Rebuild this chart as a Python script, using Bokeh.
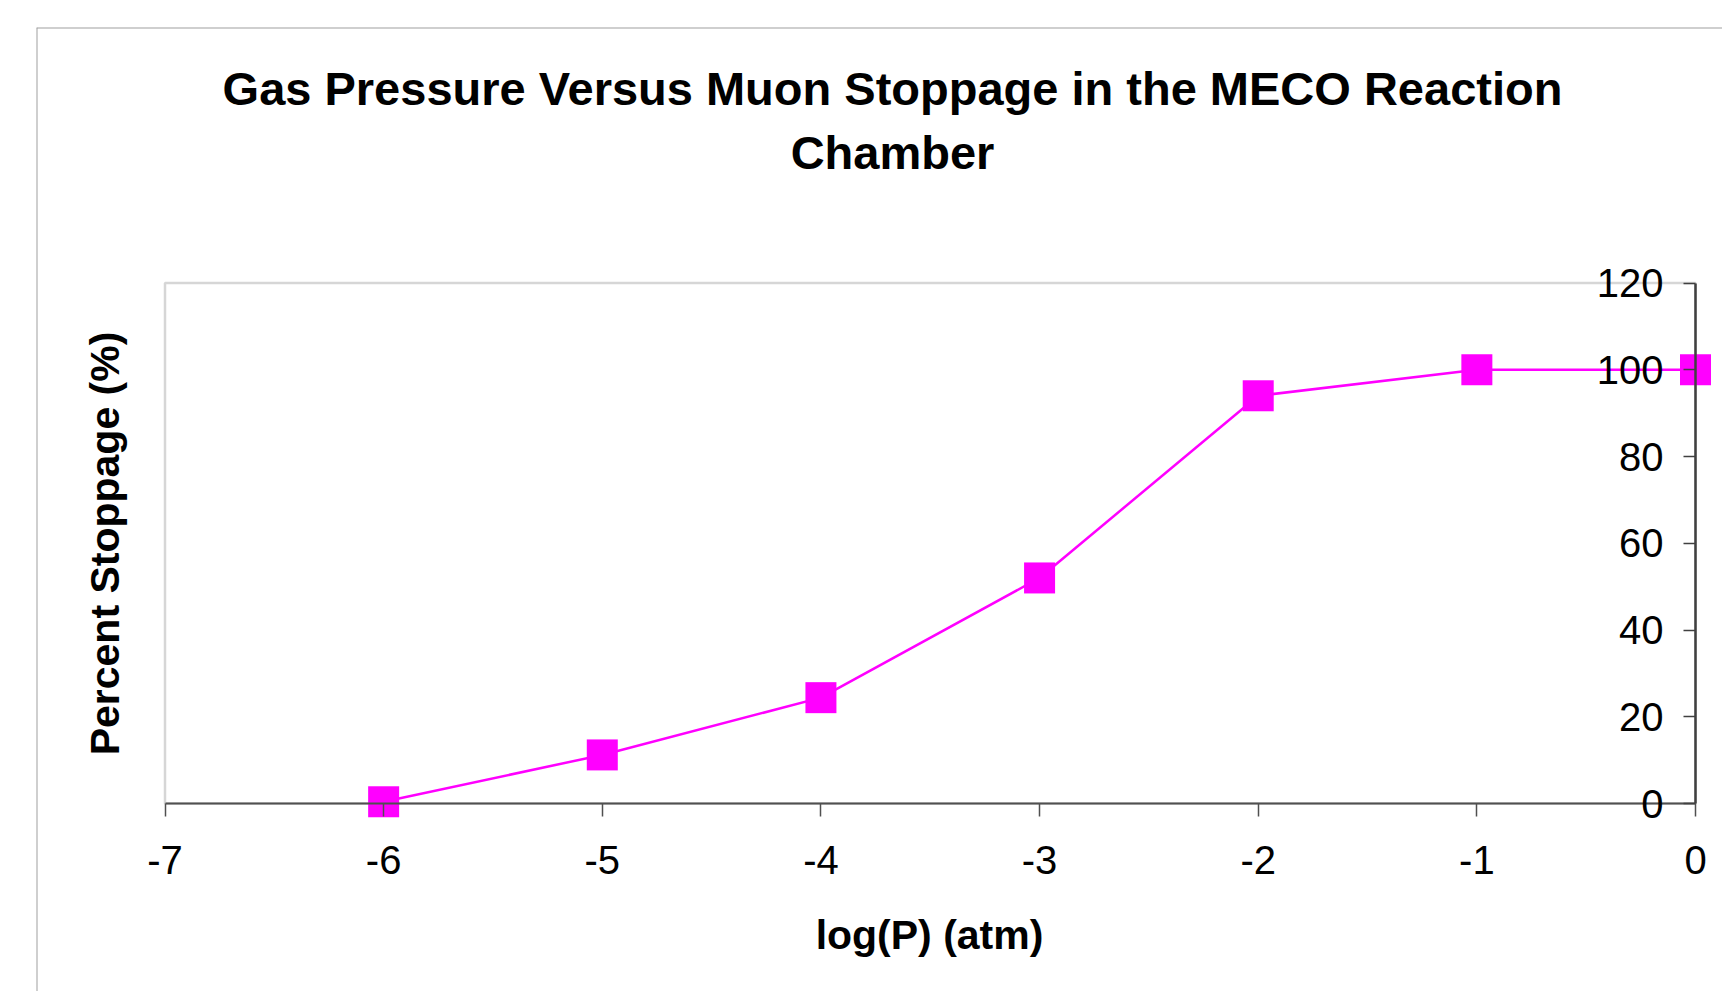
from bokeh.plotting import figure
from bokeh.models import Label, BoxAnnotation, Span, FixedTicker, Range1d
from bokeh.embed import file_html
from bokeh.resources import INLINE
import math

# ---- data ----
log_p = [-6, -5, -4, -3, -2, -1, 0]
stoppage = [0.4, 11.2, 24.4, 52.0, 94.0, 100.0, 100.0]
x_ticks = [-7, -6, -5, -4, -3, -2, -1, 0]
x_tick_labels = ["-7", "-6", "-5", "-4", "-3", "-2", "-1", "0"]
y_ticks = [0, 20, 40, 60, 80, 100, 120]
y_tick_labels = ["0", "20", "40", "60", "80", "100", "120"]
title_lines = ["Gas Pressure Versus Muon Stoppage in the MECO Reaction", "Chamber"]
x_title = "log(P) (atm)"
y_title = "Percent Stoppage (%)"

# ---- layout (pixels) ----
W, H = 1722, 991
PX_L, PX_R = 164.5, 1695   # pixel of x=-7 and x=0
PY_T, PY_B = 282.5, 803    # pixel of y=120 and y=0
FR_L, FR_T = 36, 27        # outer chart border corner
X0, X1 = x_ticks[0], x_ticks[-1]
Y0, Y1 = y_ticks[0], y_ticks[-1]

def dx(px):
    return X0 + (px - PX_L) * (X1 - X0) / (PX_R - PX_L)

def dy(py):
    return Y0 + (PY_B - py) * (Y1 - Y0) / (PY_B - PY_T)

FONT = "Liberation Sans"

p = figure(width=W, height=H, output_backend="svg", toolbar_location=None,
           x_range=Range1d(dx(FR_L), dx(W)), y_range=Range1d(dy(H), dy(FR_T)),
           min_border_left=FR_L, min_border_top=FR_T,
           min_border_right=0, min_border_bottom=0)
p.title.visible = False
p.outline_line_color = None
p.grid.visible = False
p.background_fill_color = "white"
p.border_fill_color = "white"

# outer chart border (left and top)
p.add_layout(Span(location=dx(FR_L), dimension="height", line_color="#a0a0a0", line_width=2))
p.add_layout(Span(location=dy(FR_T), dimension="width", line_color="#a0a0a0", line_width=2))

# plot-area box
p.add_layout(BoxAnnotation(left=X0, right=X1, bottom=Y0, top=Y1, fill_color=None,
                           line_color="#787878", line_width=2.5, level="underlay"))

# x axis crossing at y=0
xa = p.xaxis[0]
xa.fixed_location = 0
xa.bounds = (X0, X1)
xa.ticker = FixedTicker(ticks=x_ticks, minor_ticks=[])
xa.major_label_overrides = {t: s for t, s in zip(x_ticks, x_tick_labels)}
xa.axis_line_color = "#505050"
xa.axis_line_width = 2
xa.major_tick_line_color = "#505050"
xa.major_tick_line_width = 1.5
xa.major_tick_out = 13
xa.major_tick_in = 0
xa.minor_tick_line_color = None
xa.major_label_text_font = FONT
xa.major_label_text_font_size = "40px"
xa.major_label_text_color = "black"
xa.major_label_standoff = 29

# y axis crossing at x=0 (labels drawn inside the plot area)
ya = p.yaxis[0]
ya.fixed_location = 0
ya.bounds = (Y0, Y1)
ya.ticker = FixedTicker(ticks=y_ticks, minor_ticks=[])
ya.major_label_overrides = {t: s for t, s in zip(y_ticks, y_tick_labels)}
ya.axis_line_color = "#404040"
ya.axis_line_width = 2.5
ya.major_tick_line_color = "#404040"
ya.major_tick_line_width = 1.5
ya.major_tick_out = 12
ya.major_tick_in = 0
ya.minor_tick_line_color = None
ya.major_label_text_font = FONT
ya.major_label_text_font_size = "40px"
ya.major_label_text_color = "black"
ya.major_label_standoff = 20

# series
p.line(log_p, stoppage, line_color="#FF00FF", line_width=2.5)
p.scatter(log_p, stoppage, marker="square", size=31, fill_color="#FF00FF",
          line_color="#FF00FF", line_width=0)

# titles
for txt, py in zip(title_lines, [88, 152]):
    p.add_layout(Label(x=dx(892), y=dy(py), text=txt, text_font=FONT,
                       text_font_style="bold", text_font_size="47px",
                       text_align="center", text_baseline="middle", text_color="black"))

p.add_layout(Label(x=dx(929), y=dy(934), text=x_title, text_font=FONT,
                   text_font_style="bold", text_font_size="41px",
                   text_align="center", text_baseline="middle", text_color="black"))
p.add_layout(Label(x=dx(104), y=dy(543), text=y_title, text_font=FONT,
                   text_font_style="bold", text_font_size="41px", angle=math.pi / 2,
                   text_align="center", text_baseline="middle", text_color="black"))

open("out.html", "w").write(file_html(p, INLINE))
